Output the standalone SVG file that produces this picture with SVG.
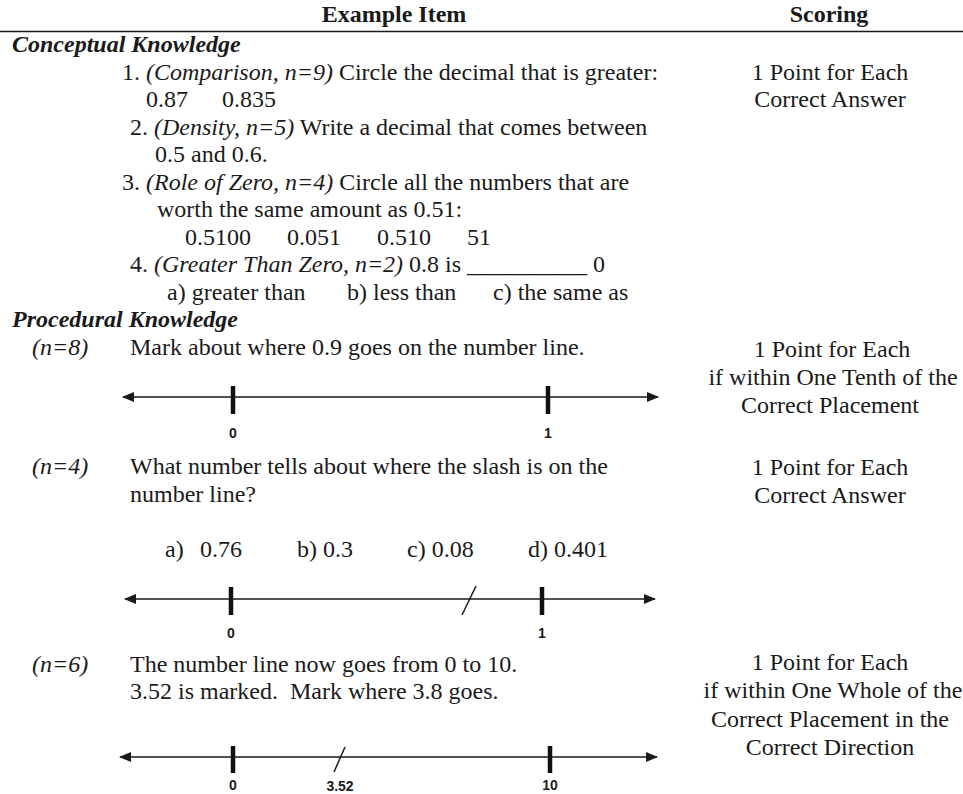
<svg xmlns="http://www.w3.org/2000/svg" width="963" height="794" viewBox="0 0 963 794">
<defs>
<marker id="ah" viewBox="0 0 12 10" refX="11" refY="5" markerWidth="12" markerHeight="10" markerUnits="userSpaceOnUse" orient="auto-start-reverse">
<path d="M0,0 L12,5 L0,10 Z" fill="#1a1a1a"/>
</marker>
<style>
text{font-family:"Liberation Serif","Times New Roman",serif;font-size:24px;fill:#1a1a1a}
.b{font-weight:bold}
.bi{font-weight:bold;font-style:italic}
.i{font-style:italic}
.c{text-anchor:middle}
.pre{white-space:pre}
.lab{font-family:"Liberation Sans",Arial,sans-serif;font-size:14px;font-weight:bold;text-anchor:middle}
.nl{stroke:#1a1a1a;stroke-width:1.6;fill:none}
.tk{stroke:#111;stroke-width:4.5}
.sl{stroke:#1a1a1a;stroke-width:1.5}
</style>
</defs>
<rect width="963" height="794" fill="#fff"/>

<g id="header">
<text class="b c" x="394" y="22">Example Item</text>
<text class="b c" x="829" y="22">Scoring</text>
<line x1="0" y1="31.5" x2="963" y2="31.5" stroke="#1a1a1a" stroke-width="1.5"/>
</g>

<g id="conceptual">
<text class="bi" x="12" y="52">Conceptual Knowledge</text>
<text x="122" y="80">1. <tspan class="i">(Comparison, n=9)</tspan> Circle the decimal that is greater:</text>
<text x="146" y="107">0.87</text>
<text x="222" y="107">0.835</text>
<text x="130" y="134.5">2. <tspan class="i">(Density, n=5)</tspan> Write a decimal that comes between</text>
<text x="155" y="162">0.5 and 0.6.</text>
<text x="122" y="189.5">3. <tspan class="i">(Role of Zero, n=4)</tspan> Circle all the numbers that are</text>
<text x="157" y="217">worth the same amount as 0.51:</text>
<text x="185" y="244.5">0.5100</text>
<text x="287" y="244.5">0.051</text>
<text x="377" y="244.5">0.510</text>
<text x="467" y="244.5">51</text>
<text x="130" y="272">4. <tspan class="i">(Greater Than Zero, n=2)</tspan> 0.8 is __________ 0</text>
<text x="167" y="299.5">a) greater than</text>
<text x="347" y="299.5">b) less than</text>
<text x="493" y="299.5">c) the same as</text>
<text class="c" x="830" y="80">1 Point for Each</text>
<text class="c" x="830" y="107">Correct Answer</text>
</g>

<g id="procedural">
<text class="bi" x="12" y="327">Procedural Knowledge</text>
</g>

<g id="item-n8">
<text class="i" x="32" y="355">(n=8)</text>
<text x="130" y="355">Mark about where 0.9 goes on the number line.</text>
<line class="nl" x1="123" y1="397" x2="658" y2="397" marker-start="url(#ah)" marker-end="url(#ah)"/>
<line class="tk" x1="233" y1="386" x2="233" y2="414"/>
<line class="tk" x1="548" y1="386" x2="548" y2="414"/>
<text class="lab" x="233" y="438">0</text>
<text class="lab" x="548" y="438">1</text>
<text class="c" x="832" y="357">1 Point for Each</text>
<text class="c" x="833" y="385">if within One Tenth of the</text>
<text class="c" x="830" y="413">Correct Placement</text>
</g>

<g id="item-n4">
<text class="i" x="32" y="474">(n=4)</text>
<text x="130" y="474">What number tells about where the slash is on the</text>
<text x="130" y="502">number line?</text>
<text x="165" y="557">a)</text>
<text x="200" y="557">0.76</text>
<text x="297" y="557">b) 0.3</text>
<text x="407" y="557">c) 0.08</text>
<text x="528" y="557">d) 0.401</text>
<line class="nl" x1="125" y1="599" x2="655" y2="599" marker-start="url(#ah)" marker-end="url(#ah)"/>
<line class="tk" x1="231" y1="587" x2="231" y2="615"/>
<line class="tk" x1="542" y1="587" x2="542" y2="615"/>
<line class="sl" x1="462" y1="615" x2="476" y2="586"/>
<text class="lab" x="231" y="638">0</text>
<text class="lab" x="542" y="638">1</text>
<text class="c" x="830" y="475">1 Point for Each</text>
<text class="c" x="830" y="503">Correct Answer</text>
</g>

<g id="item-n6">
<text class="i" x="32" y="672">(n=6)</text>
<text x="130" y="672">The number line now goes from 0 to 10.</text>
<text class="pre" x="130" y="699">3.52 is marked.  Mark where 3.8 goes.</text>
<line class="nl" x1="120" y1="757" x2="657" y2="757" marker-start="url(#ah)" marker-end="url(#ah)"/>
<line class="tk" x1="233" y1="746" x2="233" y2="773"/>
<line class="tk" x1="550" y1="746" x2="550" y2="773"/>
<line class="sl" x1="334" y1="772" x2="345" y2="747"/>
<text class="lab" x="233" y="790">0</text>
<text class="lab" x="340" y="791">3.52</text>
<text class="lab" x="550" y="790">10</text>
<text class="c" x="830" y="670">1 Point for Each</text>
<text class="c" x="833" y="698">if within One Whole of the</text>
<text class="c" x="830" y="727">Correct Placement in the</text>
<text class="c" x="830" y="755">Correct Direction</text>
</g>
</svg>
